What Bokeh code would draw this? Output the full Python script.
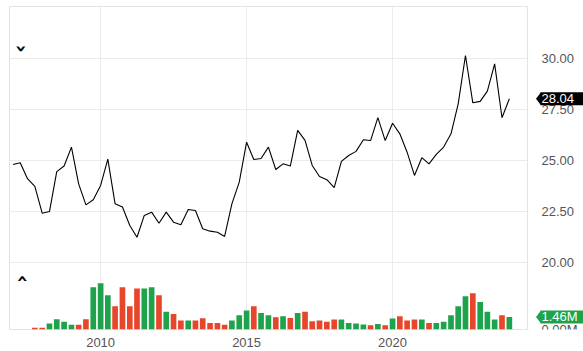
import math
from datetime import datetime
import pandas as pd
from bokeh.plotting import figure
from bokeh.layouts import row
from bokeh.models import (Range1d, FixedTicker, DatetimeTickFormatter, Grid,
                          ColumnDataSource, Label)
from bokeh.core.properties import value
from bokeh.embed import file_html
from bokeh.resources import INLINE

# ---------------- data ----------------
dates = [
    "2007-01-01", "2007-04-01", "2007-07-01", "2007-10-01",
    "2008-01-01", "2008-04-01", "2008-07-01", "2008-10-01",
    "2009-01-01", "2009-04-01", "2009-07-01", "2009-10-01",
    "2010-01-01", "2010-04-01", "2010-07-01", "2010-10-01",
    "2011-01-01", "2011-04-01", "2011-07-01", "2011-10-01",
    "2012-01-01", "2012-04-01", "2012-07-01", "2012-10-01",
    "2013-01-01", "2013-04-01", "2013-07-01", "2013-10-01",
    "2014-01-01", "2014-04-01", "2014-07-01", "2014-10-01",
    "2015-01-01", "2015-04-01", "2015-07-01", "2015-10-01",
    "2016-01-01", "2016-04-01", "2016-07-01", "2016-10-01",
    "2017-01-01", "2017-04-01", "2017-07-01", "2017-10-01",
    "2018-01-01", "2018-04-01", "2018-07-01", "2018-10-01",
    "2019-01-01", "2019-04-01", "2019-07-01", "2019-10-01",
    "2020-01-01", "2020-04-01", "2020-07-01", "2020-10-01",
    "2021-01-01", "2021-04-01", "2021-07-01", "2021-10-01",
    "2022-01-01", "2022-04-01", "2022-07-01", "2022-10-01",
    "2023-01-01", "2023-04-01", "2023-07-01", "2023-10-01",
    "2024-01-01",
]

close = [24.82, 24.90, 24.12, 23.74, 22.43, 22.51, 24.47, 24.74, 25.67, 23.87,
         22.84, 23.09, 23.79, 25.08, 22.89, 22.73, 21.83, 21.25, 22.32, 22.48,
         21.94, 22.48, 21.99, 21.86, 22.61, 22.56, 21.67, 21.55, 21.50, 21.29,
         22.89, 23.95, 25.91, 25.06, 25.11, 25.67, 24.57, 24.85, 24.74, 26.49,
         26.00, 24.77, 24.23, 24.07, 23.68, 24.97, 25.26, 25.46, 26.03, 25.99,
         27.11, 25.99, 26.84, 26.32, 25.42, 24.28, 25.15, 24.85, 25.31, 25.67,
         26.32, 27.79, 30.16, 27.84, 27.91, 28.41, 29.75, 27.11, 28.04]

nan = float("nan")
volume_m = [nan, nan, nan,
            0.19, 0.19, 0.70, 1.20, 0.89, 0.54, 0.54, 1.20,
            4.94, 5.41, 4.01, 2.72, 4.94, 2.72, 4.79, 4.79, 4.94, 4.01,
            2.06, 1.82, 1.05, 1.05, 1.05, 1.32, 0.77, 0.77, 0.54, 1.05,
            1.67, 2.22, 2.72, 1.94, 1.67, 1.44, 1.55, 1.35, 1.94, 2.06,
            0.97, 1.05, 0.89, 1.17, 1.17, 0.77, 0.70, 0.58, 0.50, 0.65,
            0.50, 1.28, 1.55, 1.05, 1.17, 1.17, 0.77, 0.77, 0.89, 1.67,
            2.72, 3.89, 4.24, 3.22, 2.06, 1.17, 1.67, 1.46]

year_ticks = ["2010-01-01", "2015-01-01", "2020-01-01"]
price_ticks = [20.0, 22.5, 25.0, 27.5, 30.0]
volume_ticks = [0.0]

# ---------------- styles ----------------
GREEN = "#1ea34c"
RED = "#e8462b"
GRID = "#ebebeb"
AXIS_TXT = "#555555"
FONT = "Liberation Sans"
TOP, BOTTOM, H = 6, 22, 351

x = pd.to_datetime(dates)
up_down = [GREEN] + [GREEN if close[i] >= close[i - 1] else RED for i in range(1, len(close))]
src = ColumnDataSource(dict(x=x, close=close, vol=volume_m, color=up_down))

x_start = datetime(2006, 11, 18)
x_end = datetime(2024, 8, 15)
price_range = Range1d(16.73, 32.56)
vol_range = Range1d(0, 37.7)

# ---------------- main chart ----------------
p = figure(width=528, height=H, x_axis_type="datetime",
           x_range=Range1d(x_start, x_end), y_range=price_range,
           y_axis_location=None, output_backend="svg", toolbar_location=None,
           min_border_left=9, min_border_top=TOP, min_border_right=1, min_border_bottom=BOTTOM)
p.extra_y_ranges = {"vol": vol_range}
p.background_fill_color = "white"
p.border_fill_color = "white"
p.outline_line_color = "#e3e3e3"
p.outline_line_width = 1

tick_ms = [pd.Timestamp(t).value / 1e6 for t in year_ticks]
p.xaxis.ticker = FixedTicker(ticks=tick_ms)
p.xaxis.formatter = DatetimeTickFormatter(years="%Y", months="%Y", days="%Y", hours="%Y")
p.xgrid.ticker = FixedTicker(ticks=tick_ms)
p.xgrid.grid_line_color = GRID
if len(p.ygrid) == 0:
    p.add_layout(Grid(dimension=1, ticker=FixedTicker(ticks=price_ticks)), "center")
for g in p.ygrid:
    g.ticker = FixedTicker(ticks=price_ticks)
    g.grid_line_color = GRID

ax = p.xaxis[0]
ax.axis_line_color = None
ax.major_tick_line_color = None
ax.minor_tick_line_color = None
ax.major_tick_out = 0
ax.major_tick_in = 0
ax.minor_tick_out = 0
ax.major_label_text_font = FONT
ax.major_label_text_font_size = "13px"
ax.major_label_text_color = AXIS_TXT
ax.major_label_standoff = 8

bar_w = 71 * 24 * 3600 * 1000
p.vbar(x="x", top="vol", bottom=0, width=bar_w, color="color", source=src,
       y_range_name="vol", line_color=None)
p.line(x="x", y="close", source=src, line_color="black", line_width=1.1)

# collapse chevrons
p.add_layout(Label(x=x_start, y=price_range.end, x_offset=12, y_offset=-42, text="\u203A",
                   angle=-math.pi / 2, text_font="DejaVu Sans", text_font_style="bold",
                   text_font_size="20px", text_color="black",
                   text_baseline="middle", text_align="center"))
p.add_layout(Label(x=x_start, y=price_ticks[0], x_offset=11, y_offset=-16, text="\u203A",
                   angle=math.pi / 2, text_font="DejaVu Sans", text_font_style="bold",
                   text_font_size="20px", text_color="black",
                   text_baseline="middle", text_align="center"))

# ---------------- right-hand value scale ----------------
SW = 55
s = figure(width=SW, height=H, x_range=Range1d(0, SW), y_range=price_range,
           x_axis_location=None, y_axis_location=None,
           output_backend="svg", toolbar_location=None,
           min_border_left=0, min_border_right=0, min_border_top=TOP, min_border_bottom=BOTTOM)
s.extra_y_ranges = {"vol": vol_range}
s.outline_line_color = None
s.background_fill_color = "white"
s.border_fill_color = "white"
s.grid.visible = False

s.text(x=[13] * len(price_ticks), y=price_ticks, text=[f"{t:.2f}" for t in price_ticks],
       text_font=value(FONT), text_font_size="13px", text_color=AXIS_TXT,
       text_baseline="middle", text_align="left")
s.text(x=[13] * len(volume_ticks), y=volume_ticks, y_range_name="vol",
       text=[f"{t:.2f}M" for t in volume_ticks],
       text_font=value(FONT), text_font_size="13px", text_color=AXIS_TXT,
       text_baseline="middle", text_align="left")

frame_h = H - TOP - BOTTOM
TAG_HALF_PX = 6.5


def tag(val, label, color, rng, rng_name):
    half = TAG_HALF_PX * (rng.end - rng.start) / frame_h
    kw = {} if rng_name is None else {"y_range_name": rng_name}
    s.patch(x=[7.5, 12.5, 12.5], y=[val, val + half, val - half], color=color,
            line_color=None, **kw)
    s.quad(left=12, right=SW, bottom=val - half, top=val + half, color=color,
           line_color=None, **kw)
    s.text(x=[13], y=[val], text=[label], text_font=value(FONT), text_font_size="13px",
           text_color="white", text_baseline="middle", text_align="left", **kw)


tag(close[-1], f"{close[-1]:.2f}", "black", price_range, None)
tag(volume_m[-1], f"{volume_m[-1]:.2f}M", GREEN, vol_range, "vol")

layout = row(p, s, spacing=0)
open("out.html", "w").write(file_html(layout, INLINE))
